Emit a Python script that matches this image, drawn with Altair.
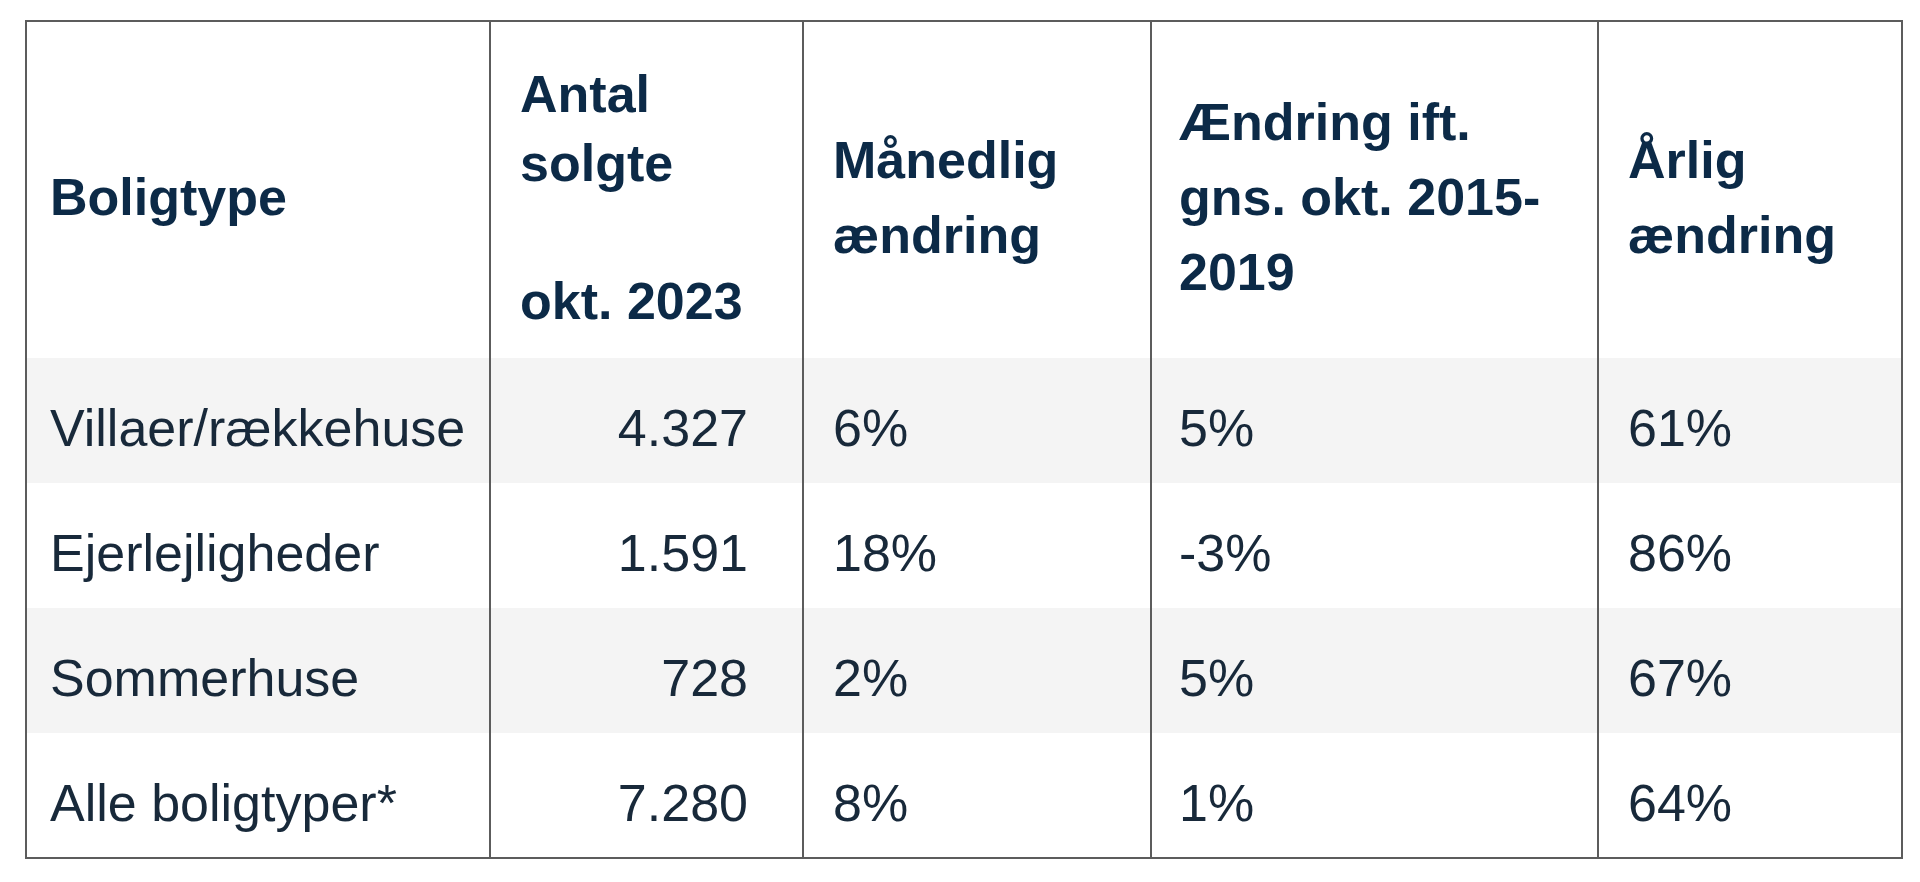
import altair as alt
import pandas as pd

# ---------------- data ----------------
boligtyper = ["Villaer/rækkehuse", "Ejerlejligheder", "Sommerhuse", "Alle boligtyper*"]
antal_solgte = ["4.327", "1.591", "728", "7.280"]
maanedlig = ["6%", "18%", "2%", "8%"]
ift_gns = ["5%", "-3%", "5%", "1%"]
aarlig = ["61%", "86%", "67%", "64%"]

header_boligtype = ["Boligtype"]
header_antal = ["Antal", "solgte", "", "okt. 2023"]
header_maanedlig = ["Månedlig", "ændring"]
header_ift = ["Ændring ift.", "gns. okt. 2015-", "2019"]
header_aarlig = ["Årlig", "ændring"]

# ---------------- layout (page pixels) ----------------
X_EDGES = [26, 490, 803, 1151, 1598, 1902]
TOP, HEAD_BOTTOM, BOTTOM = 21, 358, 858
N_ROWS = len(boligtyper)
ROW_H = (BOTTOM - HEAD_BOTTOM) / N_ROWS
TEXT_X = [50, 520, 833, 1179, 1628]
NUM_RIGHT = 748
HEAD_CENTER = 196.5
CAP_HALF = 18.5
FONT = "Liberation Sans"
FS = 52
HEAD_COLOR = "#0c2a47"
BODY_COLOR = "#18293a"
LINE_COLOR = "#5c5c5c"
STRIPE = "#f4f4f4"

W, H = 1900, 860
xs = alt.Scale(domain=[8, 8 + W], range=[0, W], nice=False, zero=False)
ys = alt.Scale(domain=[8, 8 + H], range=[0, H], nice=False, zero=False)

# row backgrounds
bg = pd.DataFrame([
    {"x": X_EDGES[0], "x2": X_EDGES[-1],
     "y": HEAD_BOTTOM + i * ROW_H, "y2": HEAD_BOTTOM + (i + 1) * ROW_H}
    for i in range(N_ROWS) if i % 2 == 0
])

# lines: outer border + column dividers
segs = [
    {"x": X_EDGES[0], "x2": X_EDGES[-1], "y": TOP, "y2": TOP},
    {"x": X_EDGES[0], "x2": X_EDGES[-1], "y": BOTTOM, "y2": BOTTOM},
]
for xe in X_EDGES:
    segs.append({"x": xe, "x2": xe, "y": TOP, "y2": BOTTOM})
lines = pd.DataFrame(segs)

# header texts
head_rows = []
def add_header(lines_, x, spacing):
    n = len(lines_)
    for i, t in enumerate(lines_):
        if t:
            head_rows.append({"x": x, "y": HEAD_CENTER + (i - (n - 1) / 2) * spacing + CAP_HALF, "t": t})

add_header(header_boligtype, TEXT_X[0], 75)
add_header(header_antal, TEXT_X[1], 69)
add_header(header_maanedlig, TEXT_X[2], 75)
add_header(header_ift, TEXT_X[3], 75)
add_header(header_aarlig, TEXT_X[4], 75)
heads = pd.DataFrame(head_rows)

# body texts
left_rows, right_rows = [], []
for i in range(N_ROWS):
    yb = HEAD_BOTTOM + i * ROW_H + 88
    left_rows.append({"x": TEXT_X[0], "y": yb, "t": boligtyper[i]})
    right_rows.append({"x": NUM_RIGHT, "y": yb, "t": antal_solgte[i]})
    left_rows.append({"x": TEXT_X[2], "y": yb, "t": maanedlig[i]})
    left_rows.append({"x": TEXT_X[3], "y": yb, "t": ift_gns[i]})
    left_rows.append({"x": TEXT_X[4], "y": yb, "t": aarlig[i]})
body_left = pd.DataFrame(left_rows)
body_right = pd.DataFrame(right_rows)

X = alt.X("x:Q", scale=xs, axis=None)
Y = alt.Y("y:Q", scale=ys, axis=None)

bg_layer = alt.Chart(bg).mark_rect(color=STRIPE).encode(
    x=X, x2="x2:Q", y=Y, y2="y2:Q")

line_layer = alt.Chart(lines).mark_rule(color=LINE_COLOR, strokeWidth=2, strokeCap="square").encode(
    x=X, x2="x2:Q", y=Y, y2="y2:Q")

head_layer = alt.Chart(heads).mark_text(
    font=FONT, fontSize=FS, fontWeight="bold", color=HEAD_COLOR,
    align="left", baseline="alphabetic").encode(x=X, y=Y, text="t:N")

body_left_layer = alt.Chart(body_left).mark_text(
    font=FONT, fontSize=FS, color=BODY_COLOR,
    align="left", baseline="alphabetic").encode(x=X, y=Y, text="t:N")

body_right_layer = alt.Chart(body_right).mark_text(
    font=FONT, fontSize=FS, color=BODY_COLOR,
    align="right", baseline="alphabetic").encode(x=X, y=Y, text="t:N")

chart = alt.layer(bg_layer, line_layer, head_layer, body_left_layer, body_right_layer).properties(
    width=W, height=H, padding=0, autosize=alt.AutoSizeParams(type="none"),
    background="white"
).configure_view(stroke=None)

chart.save("out.html", embed_options={"renderer": "svg", "actions": False})
